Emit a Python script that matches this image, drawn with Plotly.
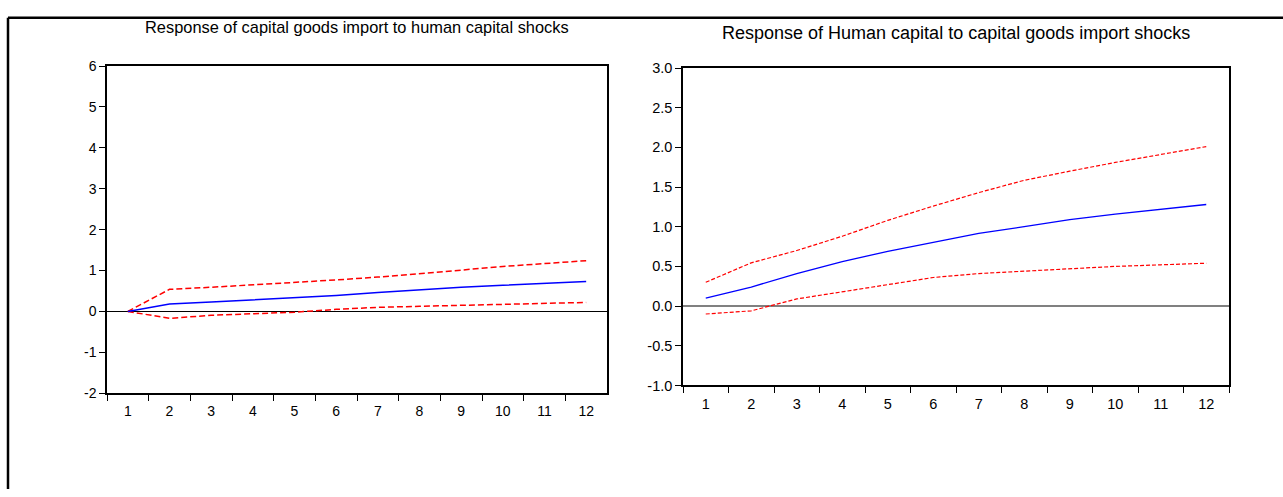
import plotly.graph_objects as go

W, H = 1283, 497

periods = [1, 2, 3, 4, 5, 6, 7, 8, 9, 10, 11, 12]
period_labels = [str(p) for p in periods]

# Left panel: Response of capital goods import to human capital shocks
left_resp = [0.0, 0.18, 0.23, 0.28, 0.33, 0.39, 0.46, 0.53, 0.59, 0.64, 0.69, 0.73]
left_upper = [0.0, 0.54, 0.59, 0.65, 0.70, 0.77, 0.84, 0.92, 1.01, 1.10, 1.17, 1.24]
left_lower = [0.0, -0.17, -0.095, -0.055, -0.02, 0.05, 0.10, 0.125, 0.15, 0.17, 0.20, 0.22]
left_yticks = [-2, -1, 0, 1, 2, 3, 4, 5, 6]
left_yticktext = ["-2", "-1", "0", "1", "2", "3", "4", "5", "6"]

# Right panel: Response of Human capital to capital goods import shocks
right_resp = [0.10, 0.24, 0.41, 0.56, 0.69, 0.80, 0.915, 1.00, 1.09, 1.16, 1.22, 1.28]
right_upper = [0.30, 0.545, 0.70, 0.88, 1.08, 1.26, 1.43, 1.585, 1.70, 1.81, 1.91, 2.01]
right_lower = [-0.10, -0.06, 0.09, 0.18, 0.27, 0.36, 0.41, 0.44, 0.47, 0.50, 0.52, 0.54]
right_yticks = [-1.0, -0.5, 0.0, 0.5, 1.0, 1.5, 2.0, 2.5, 3.0]
right_yticktext = ["-1.0", "-0.5", "0.0", "0.5", "1.0", "1.5", "2.0", "2.5", "3.0"]

left_title = "Response of capital goods import to human capital shocks"
right_title = "Response of Human capital to capital goods import shocks"

FONT = "Liberation Sans, Arial, sans-serif"

def px_x(x):
    return x / W

def px_y(y):
    return (H - y) / H

fig = go.Figure()

# left traces
fig.add_trace(go.Scatter(x=period_labels, y=left_upper, mode="lines",
                         line=dict(color="#FF0000", width=1.5, dash="6px,3px"),
                         xaxis="x", yaxis="y", showlegend=False))
fig.add_trace(go.Scatter(x=period_labels, y=left_lower, mode="lines",
                         line=dict(color="#FF0000", width=1.5, dash="6px,3px"),
                         xaxis="x", yaxis="y", showlegend=False))
fig.add_trace(go.Scatter(x=period_labels, y=left_resp, mode="lines",
                         line=dict(color="#0000FF", width=1.5),
                         xaxis="x", yaxis="y", showlegend=False))

# right traces
fig.add_trace(go.Scatter(x=period_labels, y=right_upper, mode="lines",
                         line=dict(color="#FF0000", width=1.2, dash="4px,2px"),
                         xaxis="x2", yaxis="y2", showlegend=False))
fig.add_trace(go.Scatter(x=period_labels, y=right_lower, mode="lines",
                         line=dict(color="#FF0000", width=1.2, dash="4px,2px"),
                         xaxis="x2", yaxis="y2", showlegend=False))
fig.add_trace(go.Scatter(x=period_labels, y=right_resp, mode="lines",
                         line=dict(color="#0000FF", width=1.3),
                         xaxis="x2", yaxis="y2", showlegend=False))

common_x = dict(type="category", tickson="boundaries", ticks="outside", ticklen=6,
                tickwidth=1, tickcolor="black", showline=True, linecolor="black",
                linewidth=1.5, mirror=True, showgrid=False, zeroline=False,
                categoryorder="array", categoryarray=period_labels,
                range=[-0.5, 11.5], ticklabelstandoff=4)
common_y = dict(ticks="outside", ticklen=6, tickwidth=1, tickcolor="black",
                showline=True, linecolor="black", linewidth=1.5, mirror=True,
                showgrid=False, zeroline=True)

fig.update_layout(
    width=W, height=H,
    margin=dict(l=0, r=0, t=0, b=0),
    paper_bgcolor="white", plot_bgcolor="white",
    font=dict(family=FONT, color="black"),
    xaxis=dict(domain=[px_x(107), px_x(607)], anchor="y",
               tickfont=dict(size=14), **common_x),
    yaxis=dict(domain=[px_y(398), px_y(60)], anchor="x", range=[-2, 6],
               tickmode="array", tickvals=left_yticks, ticktext=left_yticktext,
               tickfont=dict(size=14),
               zerolinecolor="black", zerolinewidth=1, **common_y),
    xaxis2=dict(domain=[px_x(683), px_x(1229)], anchor="y2",
                tickfont=dict(size=14.5), **common_x),
    yaxis2=dict(domain=[px_y(390), px_y(62)], anchor="x2", range=[-1, 3],
                tickmode="array", tickvals=right_yticks, ticktext=right_yticktext,
                tickfont=dict(size=14.5),
                zerolinecolor="#808080", zerolinewidth=2, **common_y),
    annotations=[
        dict(text=left_title, x=px_x(357), y=px_y(20), xref="paper", yref="paper",
             xanchor="center", yanchor="middle", showarrow=False,
             font=dict(size=16.4, family=FONT)),
        dict(text=right_title, x=px_x(956), y=px_y(26), xref="paper", yref="paper",
             xanchor="center", yanchor="middle", showarrow=False,
             font=dict(size=18, family=FONT)),
    ],
    shapes=[
        dict(type="line", xref="paper", yref="paper", x0=px_x(8), x1=1.0,
             y0=px_y(10), y1=px_y(10), line=dict(color="black", width=2.5)),
        dict(type="line", xref="paper", yref="paper", x0=px_x(8), x1=px_x(8),
             y0=px_y(10), y1=0.0, line=dict(color="black", width=2.5)),
    ],
)

fig.write_html("out.html")
